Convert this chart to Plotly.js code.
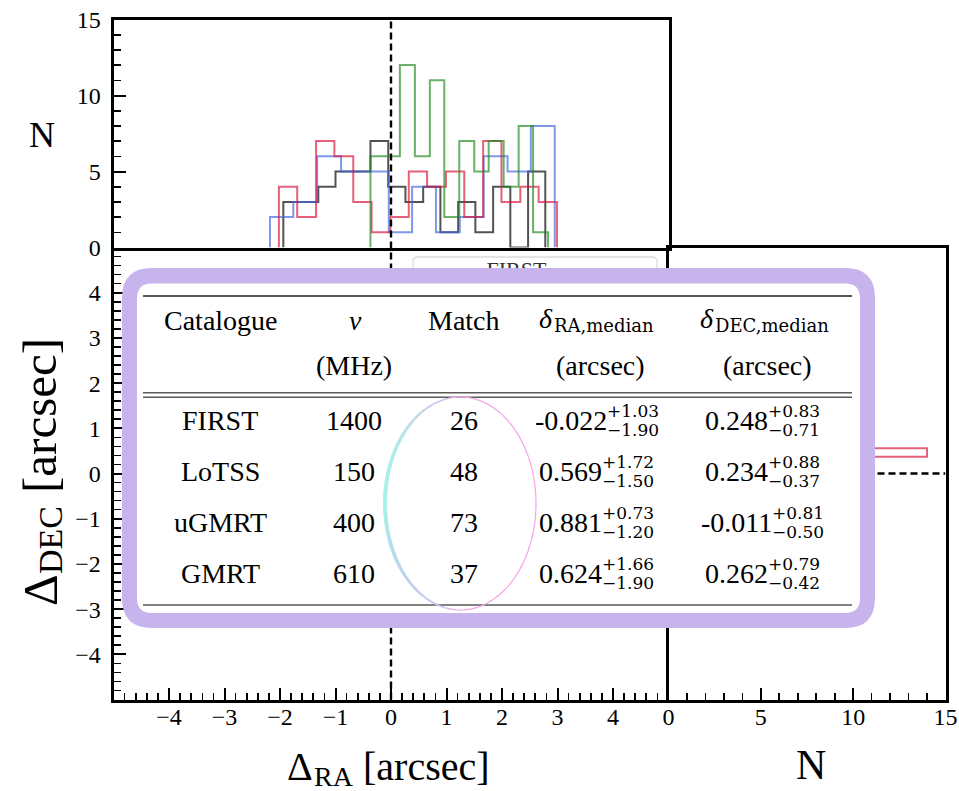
<!DOCTYPE html>
<html><head><meta charset="utf-8">
<script src="https://cdn.plot.ly/plotly-3.0.1.min.js"></script>
<style>html,body{margin:0;padding:0;background:#fff}</style>
</head><body><div id="chart" style="width:959px;height:791px"></div>
<script>
// ---------- DATA ----------
// Top panel: histograms of ΔRA (arcsec), bin edges and counts
const blackEdgesRA = [-1.94,-1.63,-1.31,-1.00,-0.68,-0.37,-0.05,0.26,0.58,0.89,1.21,1.52,1.84,2.15,2.47,2.78];
const blackCountsRA = [3,3,4,5,5,7,4,3,4,1,3,1,4,0,5];
const blueEdgesRA = [-2.18,-1.76,-1.33,-0.90,-0.47,-0.04,0.38,0.81,1.24,1.67,2.10,2.52,2.95];
const blueCountsRA = [2,3,6,5,5,1,4,1,2,6,5,8];
const redEdgesRA = [-2.02,-1.69,-1.35,-1.02,-0.68,-0.35,-0.01,0.32,0.65,0.99,1.32,1.66,1.99,2.33,2.66,2.99];
const redCountsRA = [4,2,7,6,3,1,2,5,4,5,2,7,3,4,3];
const greenEdgesRA = [-0.37,-0.10,0.16,0.43,0.70,0.96,1.23,1.50,1.76,2.03,2.30,2.56,2.83];
const greenCountsRA = [6,6,12,6,11,2,7,5,7,4,8,1];
// Right panel: visible part of the ΔDEC histogram (red)
const redEdgesDEC = [0.37,0.56];
const redCountsDEC = [14];
// Legend (only the first entry peeks out above the table)
const legendFirst = "FIRST";
// Table
const catalogues = ["FIRST","LoTSS","uGMRT","GMRT"];
const freqs = ["1400","150","400","610"];
const matches = ["26","48","73","37"];
const raMed = ["-0.022","0.569","0.881","0.624"];
const raPlus = ["+1.03","+1.72","+0.73","+1.66"];
const raMinus = ["\u22121.90","\u22121.50","\u22121.20","\u22121.90"];
const decMed = ["0.248","0.234","-0.011","0.262"];
const decPlus = ["+0.83","+0.88","+0.81","+0.79"];
const decMinus = ["\u22120.71","\u22120.37","\u22120.50","\u22120.42"];
const headers1 = ["Catalogue","\u03bd","Match"];
const headers2 = ["(MHz)","(arcsec)","(arcsec)"];
const majorTicksMain = [-4,-3,-2,-1,0,1,2,3,4];
const ticksN = [0,5,10,15];

// ---------- helpers ----------
const W = 959, H = 791;
const PX = p => p / W;
const PY = p => 1 - p / H;
function stepXY(edges, counts) {
  const a = [edges[0]], b = [0];
  for (let i = 0; i < counts.length; i++) {
    a.push(edges[i], edges[i + 1]);
    b.push(counts[i], counts[i]);
  }
  a.push(edges[edges.length - 1]); b.push(0);
  return [a, b];
}
function rrectPath(x0, y0, x1, y1, r) {
  const P = (x, y) => PX(x).toFixed(6) + "," + PY(y).toFixed(6);
  return "M" + P(x0 + r, y0) + " L" + P(x1 - r, y0) + " Q" + P(x1, y0) + " " + P(x1, y0 + r) +
    " L" + P(x1, y1 - r) + " Q" + P(x1, y1) + " " + P(x1 - r, y1) +
    " L" + P(x0 + r, y1) + " Q" + P(x0, y1) + " " + P(x0, y1 - r) +
    " L" + P(x0, y0 + r) + " Q" + P(x0, y0) + " " + P(x0 + r, y0) + " Z";
}
function pline(x0, y0, x1, y1, color, width) {
  return {type: "line", xref: "paper", yref: "paper", x0: PX(x0), y0: PY(y0), x1: PX(x1), y1: PY(y1),
    line: {color: color, width: width}, layer: "above"};
}
const serif = "'Liberation Serif', 'Times New Roman', serif";
const serif2 = "'DejaVu Serif', serif";
function ann(text, x, y, size, xanchor, fam, extra, italic) {
  const f = {family: fam || serif, size: size, color: "#000"};
  if (italic) f.style = "italic";
  return Object.assign({text: text, x: PX(x), y: PY(y), xref: "paper", yref: "paper", showarrow: false,
    xanchor: xanchor || "center", yanchor: "middle", borderpad: 0, font: f}, extra || {});
}

// ---------- traces ----------
const colBlack = "rgba(0,0,0,0.68)", colBlue = "rgba(65,105,225,0.68)",
      colRed = "rgba(220,20,60,0.68)", colGreen = "rgba(34,139,34,0.68)";
const traces = [];
[[blackEdgesRA, blackCountsRA, colBlack], [blueEdgesRA, blueCountsRA, colBlue],
 [redEdgesRA, redCountsRA, colRed], [greenEdgesRA, greenCountsRA, colGreen]].forEach(s => {
  const xy = stepXY(s[0], s[1]);
  traces.push({x: xy[0], y: xy[1], xaxis: "x2", yaxis: "y2", mode: "lines",
    line: {color: s[2], width: 2}, hoverinfo: "skip", showlegend: false});
});
{
  const xy = stepXY(redEdgesDEC, redCountsDEC);
  traces.push({x: xy[1], y: xy[0], xaxis: "x3", yaxis: "y3", mode: "lines",
    line: {color: colRed, width: 2}, hoverinfo: "skip", showlegend: false});
}
// legend text peeking out (drawn under the table shapes)
traces.push({x: [2.26], y: [4.47], xaxis: "x", yaxis: "y", mode: "text", text: [legendFirst],
  textfont: {family: serif, size: 22, color: "#333"}, hoverinfo: "skip", showlegend: false});

// ---------- axes ----------
const xMain = [113.5, 668.5], xRight = [668.5, 945.5];
const yMain = [247.5, 699.5], yTop = [19.5, 247.5];
const base = {showgrid: false, zeroline: false, showline: true, linecolor: "#000", linewidth: 3,
  mirror: true, ticks: "inside", tickcolor: "#000", tickwidth: 2, ticklen: 12,
  tickfont: {family: serif, size: 24, color: "#000"}, ticklabelstandoff: 5};
const minor02 = {ticks: "inside", tick0: 0, dtick: 0.2, ticklen: 7, tickwidth: 1.6, tickcolor: "#000"};
const minor1 = {ticks: "inside", tick0: 0, dtick: 1, ticklen: 7, tickwidth: 1.6, tickcolor: "#000"};

const layout = {
  width: W, height: H, margin: {l: 0, r: 0, t: 0, b: 0}, paper_bgcolor: "#fff", plot_bgcolor: "rgba(0,0,0,0)",
  showlegend: false,
  xaxis: Object.assign({}, base, {domain: [PX(xMain[0]), PX(xMain[1])], anchor: "y", range: [-5, 5],
    tickmode: "array", tickvals: majorTicksMain, minor: minor02, ticklabelstandoff: -6, mirror: false}),
  yaxis: Object.assign({}, base, {domain: [PY(yMain[1]), PY(yMain[0])], anchor: "x", range: [-5, 5],
    tickmode: "array", tickvals: majorTicksMain, minor: minor02, mirror: false}),
  xaxis2: Object.assign({}, base, {domain: [PX(xMain[0]), PX(xMain[1])], anchor: "y2", range: [-5, 5],
    ticks: "", showticklabels: false}),
  yaxis2: Object.assign({}, base, {domain: [PY(yTop[1]), PY(yTop[0])], anchor: "x2", range: [0, 15],
    tickmode: "array", tickvals: ticksN, minor: minor1}),
  xaxis3: Object.assign({}, base, {domain: [PX(xRight[0]), PX(xRight[1])], anchor: "y3", range: [0, 15],
    tickmode: "array", tickvals: ticksN, minor: minor1, ticklabelstandoff: -6}),
  yaxis3: Object.assign({}, base, {domain: [PY(yMain[1]), PY(yMain[0])], anchor: "x3", range: [-5, 5],
    ticks: "", showticklabels: false}),
  shapes: [],
  annotations: []
};

// dashed reference lines
layout.shapes.push({type: "line", xref: "x", yref: "paper", x0: 0, x1: 0, y0: PY(yMain[1]), y1: PY(yTop[0]),
  line: {color: "#000", width: 2.4, dash: "7px,4px"}, layer: "above"});
layout.shapes.push({type: "line", xref: "x3", yref: "y3", x0: 0, x1: 15, y0: 0, y1: 0,
  line: {color: "#000", width: 2.4, dash: "7px,4px"}, layer: "above"});
// legend frame (transparent so the text trace shows)
layout.shapes.push({type: "path", xref: "paper", yref: "paper", path: rrectPath(413, 257, 657, 330, 5),
  line: {color: "#dcdcdc", width: 1.3}, fillcolor: "rgba(0,0,0,0)", layer: "above"});
// table frame
layout.shapes.push({type: "path", xref: "paper", yref: "paper", path: rrectPath(122, 268, 875, 628, 30),
  line: {width: 0}, fillcolor: "#c7b4ec", layer: "above"});
layout.shapes.push({type: "path", xref: "paper", yref: "paper", path: rrectPath(137, 283.5, 860, 613, 15),
  line: {width: 0}, fillcolor: "#ffffff", layer: "above"});
// table rules
layout.shapes.push(pline(143, 296, 852, 296, "#222", 1.5));
layout.shapes.push(pline(143, 392.8, 852, 392.8, "#5a5a5a", 1.6));
layout.shapes.push(pline(143, 397.3, 852, 397.3, "#5a5a5a", 1.6));
layout.shapes.push(pline(143, 605, 852, 605, "#5a5a5a", 1.6));
// gradient ellipse decoration around the "Match" column
{
  const cx = 460.5, cy = 503.5, rx = 75.5, ry = 106.5, N = 60;
  const pink = [246, 166, 232], cyan = [168, 242, 232], lav = [198, 190, 242];
  for (let i = 0; i < N; i++) {
    const t0 = 2 * Math.PI * i / N, t1 = 2 * Math.PI * (i + 1.15) / N, tm = (t0 + t1) / 2;
    const wl = Math.max(0, -Math.cos(tm));
    const low = Math.max(0, Math.sin(tm));
    let c = pink.map((v, k) => v + (cyan[k] - v) * Math.pow(wl, 0.7));
    c = c.map((v, k) => v + (lav[k] - v) * low * wl * 0.9);
    const w = 1.2 + 2.8 * Math.pow(wl, 1.5);
    const p = "M" + PX(cx + rx * Math.cos(t0)).toFixed(6) + "," + PY(cy + ry * Math.sin(t0)).toFixed(6) +
      " L" + PX(cx + rx * Math.cos(tm)).toFixed(6) + "," + PY(cy + ry * Math.sin(tm)).toFixed(6) +
      " L" + PX(cx + rx * Math.cos(t1)).toFixed(6) + "," + PY(cy + ry * Math.sin(t1)).toFixed(6);
    layout.shapes.push({type: "path", xref: "paper", yref: "paper", path: p,
      line: {color: "rgb(" + c.map(Math.round).join(",") + ")", width: w}, layer: "above"});
  }
}

// ---------- annotations ----------
const A = layout.annotations;
// axis titles (pieces, so the subscripts need no markup)
A.push(ann("N", 42, 135, 36));
A.push(ann("\u0394", 40, 590, 49, "center", serif, {textangle: -90}));
A.push(ann("DEC", 50, 540, 34, "center", serif, {textangle: -90}));
A.push(ann("[arcsec]", 40, 416, 49, "center", serif, {textangle: -90}));
A.push(ann("\u0394", 300, 766, 40));
A.push(ann("RA", 313, 776, 28, "left"));
A.push(ann("[arcsec]", 362, 766, 40, "left"));
A.push(ann("N", 811, 765, 42));
// table header
const hx = [221, 355, 464];
A.push(ann(headers1[0], hx[0], 320, 28));
A.push(ann(headers1[1], hx[1], 320, 28, "center", serif, null, true));
A.push(ann(headers1[2], hx[2], 320, 28));
A.push(ann("\u03b4", 546, 318, 28, "center", serif, null, true));
A.push(ann("RA,median", 553, 325, 18, "left", serif2));
A.push(ann("\u03b4", 707, 318, 28, "center", serif, null, true));
A.push(ann("DEC,median", 714, 325, 18, "left", serif2));
A.push(ann(headers2[0], 354, 365, 28));
A.push(ann(headers2[1], 600, 365, 28));
A.push(ann(headers2[2], 767, 365, 28));
// table rows
const rowY = [420, 471, 522, 573];
const raEdge = [608, 603, 603, 603];
const decEdge = [769, 769, 773, 769];
catalogues.forEach((c, i) => {
  const y = rowY[i];
  A.push(ann(c, 220, y, 28));
  A.push(ann(freqs[i], 354, y, 28));
  A.push(ann(matches[i], 464, y, 28));
  A.push(ann(raMed[i], raEdge[i], y, 28, "right"));
  A.push(ann(raPlus[i], raEdge[i] - 2, y - 9, 17, "left", serif2));
  A.push(ann(raMinus[i], raEdge[i] - 2, y + 10, 17, "left", serif2));
  A.push(ann(decMed[i], decEdge[i], y, 28, "right"));
  A.push(ann(decPlus[i], decEdge[i] - 2, y - 9, 17, "left", serif2));
  A.push(ann(decMinus[i], decEdge[i] - 2, y + 10, 17, "left", serif2));
});

Plotly.newPlot("chart", traces, layout, {staticPlot: true, displayModeBar: false});
</script>
</body></html>
